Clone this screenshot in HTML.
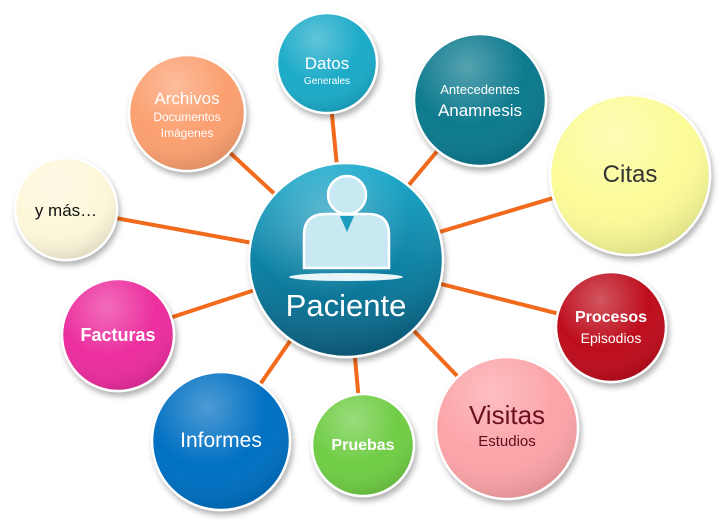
<!DOCTYPE html>
<html><head><meta charset="utf-8"><style>
html,body{margin:0;padding:0;background:#fff;}
svg{display:block;}
text{font-family:"Liberation Sans","DejaVu Sans",sans-serif;text-anchor:middle;}
</style></head><body>
<svg width="720" height="529" viewBox="0 0 720 529" xmlns="http://www.w3.org/2000/svg">
<defs>
<radialGradient id="hl" cx="0.4" cy="0.25" r="0.75">
<stop offset="0" stop-color="#fff" stop-opacity="0.3"/>
<stop offset="0.6" stop-color="#fff" stop-opacity="0"/>
<stop offset="1" stop-color="#000" stop-opacity="0.1"/>
</radialGradient>
<linearGradient id="cg" x1="0" y1="0" x2="0" y2="1">
<stop offset="0" stop-color="#18a9cc"/><stop offset="1" stop-color="#0a5f80"/>
</linearGradient>
<filter id="sh" x="-20%" y="-20%" width="140%" height="140%"><feDropShadow dx="2" dy="4" stdDeviation="3" flood-color="#000" flood-opacity="0.3"/></filter>
</defs>
<g stroke="#f26a1b" stroke-width="4">
<line x1="346" y1="260" x2="327" y2="63"/>
<line x1="346" y1="260" x2="480" y2="100"/>
<line x1="346" y1="260" x2="630" y2="175"/>
<line x1="346" y1="260" x2="611" y2="327"/>
<line x1="346" y1="260" x2="507" y2="428"/>
<line x1="346" y1="260" x2="363" y2="445"/>
<line x1="346" y1="260" x2="221" y2="441"/>
<line x1="346" y1="260" x2="118" y2="335"/>
<line x1="346" y1="260" x2="66" y2="209"/>
<line x1="346" y1="260" x2="187" y2="113"/>
</g>
<g stroke="#fff" stroke-width="2.5" filter="url(#sh)">
<circle cx="327" cy="63" r="50" fill="#1aabc9"/>
<circle cx="480" cy="100" r="66" fill="#0b7a8e"/>
<circle cx="630" cy="175" r="80" fill="#fbfb98"/>
<circle cx="611" cy="327" r="55" fill="#be0a1e"/>
<circle cx="507" cy="428" r="71" fill="#fca4a8"/>
<circle cx="363" cy="445" r="51" fill="#6fcd44"/>
<circle cx="221" cy="441" r="69" fill="#0470c2"/>
<circle cx="118" cy="335" r="56" fill="#ec2f9e"/>
<circle cx="66" cy="209" r="51" fill="#fdf7da"/>
<circle cx="187" cy="113" r="58" fill="#fba070"/>
<circle cx="346" cy="260" r="97" fill="url(#cg)"/>
</g>
<g fill="url(#hl)">
<circle cx="327" cy="63" r="49"/><circle cx="480" cy="100" r="65"/><circle cx="630" cy="175" r="79"/>
<circle cx="611" cy="327" r="54"/><circle cx="507" cy="428" r="70"/><circle cx="363" cy="445" r="50"/>
<circle cx="221" cy="441" r="68"/><circle cx="118" cy="335" r="55"/><circle cx="66" cy="209" r="50"/>
<circle cx="187" cy="113" r="57"/><circle cx="346" cy="260" r="96"/>
</g>
<g stroke="#fff" stroke-width="2.5" fill="#c8e9f2">
<path d="M304 268 L304 235 Q304 214 326 214 L368 214 Q389 214 389 235 L389 268 Z"/>
<circle cx="347" cy="195" r="19"/>
</g>
<path d="M340 216 L354 216 L347 232 Z" fill="#1a9cc0"/>
<ellipse cx="346" cy="277" rx="57" ry="4" fill="#e8f6fa"/>
<g fill="#fff">
<text x="346" y="316" font-size="31">Paciente</text>
<text x="327" y="69" font-size="17">Datos</text>
<text x="327" y="84" font-size="10">Generales</text>
<text x="480" y="94" font-size="13">Antecedentes</text>
<text x="480" y="116" font-size="17">Anamnesis</text>
<text x="187" y="104" font-size="17">Archivos</text>
<text x="187" y="121" font-size="12">Documentos</text>
<text x="187" y="137" font-size="12">Imágenes</text>
<text x="611" y="322" font-size="16" font-weight="bold">Procesos</text>
<text x="611" y="343" font-size="14">Episodios</text>
<text x="363" y="450" font-size="16" font-weight="bold">Pruebas</text>
<text x="221" y="447" font-size="21">Informes</text>
<text x="118" y="341" font-size="18" font-weight="bold">Facturas</text>
</g>
<text x="630" y="182" font-size="24" fill="#333">Citas</text>
<text x="507" y="424" font-size="26" fill="#6b1020">Visitas</text>
<text x="507" y="446" font-size="15" fill="#5a1020">Estudios</text>
<text x="66" y="216" font-size="17" fill="#111">y más…</text>
</svg>
</body></html>
